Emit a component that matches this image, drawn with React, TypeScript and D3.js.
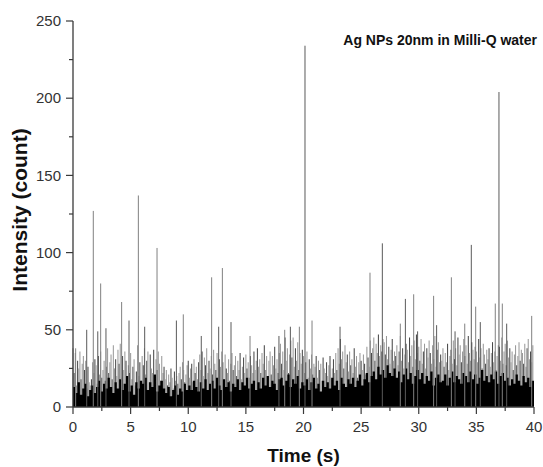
import React from "react";
import * as d3 from "d3";

// ---- data ----
// tall burst events: time (s) and intensity (count)
const spikeTimes = [0.23, 1.19, 1.76, 2.15, 2.4, 2.86, 4.22, 4.86, 5.67, 6.22, 7.29, 8.97, 9.57, 11.13, 12.03, 12.64, 12.96, 13.71, 15.36, 17.87, 18.37, 18.86, 19.64, 20.13, 20.74, 23.17, 25.77, 26.84, 28.4, 28.84, 29.56, 29.9, 31.29, 31.55, 32.83, 33.15, 33.99, 34.56, 34.94, 35.34, 36.64, 36.96, 37.25, 37.63, 39.8];
const spikeCounts = [38, 50, 127, 49, 80, 51, 68, 56, 137, 52, 103, 56, 60, 46, 84, 52, 90, 55, 46, 46, 50, 52, 52, 234, 56, 52, 87, 106, 54, 70, 73, 49, 72, 53, 84, 49, 54, 105, 65, 55, 67, 204, 67, 54, 59];

// background envelope, one value per 0.1 s
const envelopeCounts = [
  38,22,35,14,30,25,36,18,28,33, 24,30,12,26,16,14,18,29,22,31,
  27,15,33,21,36,19,24,30,17,26, 38,22,29,34,18,40,25,31,20,37,
  28,41,19,33,24,36,30,16,27,22, 35,18,26,31,14,23,40,20,29,17,
  33,27,38,21,30,36,16,34,25,22, 37,19,31,24,36,28,17,33,22,26,
  18,24,14,21,16,25,19,12,23,17, 20,15,22,26,18,29,24,16,21,27,
  30,19,25,28,16,31,22,26,18,29, 34,24,36,20,32,27,38,22,30,25,
  33,21,37,28,24,35,19,31,26,36, 29,18,34,25,22,31,17,28,35,24,
  27,33,20,30,24,35,18,26,32,22, 34,25,29,19,33,27,22,36,24,30,
  38,26,31,22,35,28,40,24,33,19, 30,36,21,33,27,39,25,31,22,35,
  41,28,36,24,45,30,38,22,34,43, 32,45,26,38,30,42,24,35,28,37,
  33,22,29,36,19,31,25,34,21,28, 26,33,19,30,24,28,17,32,25,22,
  29,20,27,33,18,25,31,22,35,24, 38,28,44,31,36,25,40,29,34,23,
  36,27,31,22,38,26,33,19,29,35, 30,24,34,28,21,39,32,26,43,35,
  38,45,30,41,35,47,33,40,36,44, 42,34,46,31,39,28,37,44,30,36,
  33,40,27,36,46,30,38,25,34,41, 37,29,45,33,40,26,43,31,47,35,
  39,30,44,28,36,41,25,38,32,43, 35,28,40,31,46,26,37,42,29,34,
  30,38,26,35,29,41,24,33,37,28, 43,31,38,27,45,34,40,29,36,44,
  33,40,28,46,35,30,42,37,31,39, 36,29,44,32,38,25,41,34,28,37,
  31,38,26,35,42,29,36,24,33,40, 39,30,45,28,36,41,27,43,32,38,
  29,36,24,34,40,27,33,42,30,37, 35,28,41,26,38,44,31,36,29,40,
];

// dense (black) background level, one value per 0.2 s
const coreCounts = [
  13,9,16,8,12,15,7,11,14,9, 13,17,10,15,12,19,13,9,16,12,
  18,11,15,20,10,14,8,16,12,17, 15,19,11,16,13,21,10,14,17,12,
  9,13,7,11,14,8,12,10,15,11, 14,11,17,13,10,16,12,18,11,15,
  17,12,19,14,11,18,13,16,10,15, 13,18,11,16,14,19,12,15,17,11,
  16,12,19,14,20,13,17,15,11,18, 19,14,17,21,13,18,15,20,12,16,
  14,18,11,16,19,12,15,10,17,13, 16,12,19,14,17,11,19,15,13,18,
  15,19,13,17,21,14,18,22,16,20, 23,18,26,21,24,19,27,22,20,25,
  19,23,16,21,25,18,22,15,20,24, 18,22,15,20,17,23,14,19,21,16,
  17,21,14,19,23,16,20,18,15,22, 20,16,23,18,21,15,19,24,17,20,
  16,21,18,23,15,20,22,17,19,14, 18,15,21,17,14,20,16,19,13,17,
];
const envelopeStep = 0.1;
const coreStep = 0.2;

const xTicks = [0, 5, 10, 15, 20, 25, 30, 35, 40];
const yTicks = [0, 50, 100, 150, 200, 250];
const title = "Ag NPs 20nm in Milli-Q water";
const xTitle = "Time (s)";
const yTitle = "Intensity (count)";

const W = 543, H = 467;
const left = 73, right = 534, top = 21, bottom = 407;

export default function App() {
  const x = d3.scaleLinear().domain([0, 40]).range([left, right]);
  const y = d3.scaleLinear().domain([0, 250]).range([bottom, top]);
  const xMinor = d3.range(0, 40.001, 2.5);
  const yMinor = d3.range(0, 250.001, 25);
  const font = "'Liberation Sans', Arial, sans-serif";
  const axisColor = "#3a3a3a";
  const coreArea = d3
    .area<number>()
    .x((_, i) => x(Math.min(40, i * coreStep)))
    .y0(y(0))
    .y1((v) => y(v))
    .curve(d3.curveStepAfter);

  return (
    <div style={{ position: "fixed", left: 0, top: 0 }}>
      <svg width={W} height={H} style={{ display: "block", background: "#fff" }}>
        <g>
          {envelopeCounts.map((v, i) => (
            <line key={"e" + i} x1={x(i * envelopeStep)} x2={x(i * envelopeStep)} y1={y(0)} y2={y(v)}
              stroke={i % 3 === 1 ? "#4a4a4a" : "#9a9a9a"} strokeWidth={1.05} />
          ))}
          <path d={coreArea([...coreCounts, coreCounts[coreCounts.length - 1]]) || ""} fill="#000" />
          {spikeTimes.map((t, i) => (
            <line key={"s" + i} x1={x(t)} x2={x(t)} y1={y(0)} y2={y(spikeCounts[i])}
              stroke={i % 2 === 0 ? "#808080" : "#5a5a5a"} strokeWidth={1} />
          ))}
        </g>
        {/* y axis */}
        <line x1={left} x2={left} y1={top} y2={bottom} stroke={axisColor} strokeWidth={1.3} />
        {yMinor.map((v) => (
          <line key={"ym" + v} x1={left} x2={left - (v % 50 === 0 ? 7 : 4)} y1={y(v)} y2={y(v)} stroke={axisColor} strokeWidth={1.2} />
        ))}
        {yTicks.map((v) => (
          <text key={"yt" + v} x={left - 12} y={y(v)} dy="0.35em" textAnchor="end" fontFamily={font} fontSize={15} fill="#333">{v}</text>
        ))}
        {/* x axis */}
        <line x1={left} x2={right} y1={bottom} y2={bottom} stroke={axisColor} strokeWidth={1.3} />
        {xMinor.map((v) => (
          <line key={"xm" + v} x1={x(v)} x2={x(v)} y1={bottom} y2={bottom + (v % 5 === 0 ? 7 : 4)} stroke={axisColor} strokeWidth={1.2} />
        ))}
        {xTicks.map((v) => (
          <text key={"xt" + v} x={x(v)} y={bottom + 25} textAnchor="middle" fontFamily={font} fontSize={15} fill="#333">{v}</text>
        ))}
        <text x={(left + right) / 2} y={462} textAnchor="middle" fontFamily={font} fontWeight="bold" fontSize={19} fill="#111">{xTitle}</text>
        <text transform={`translate(27,210) rotate(-90)`} textAnchor="middle" fontFamily={font} fontWeight="bold" fontSize={21} fill="#111">{yTitle}</text>
        <text x={537} y={45} textAnchor="end" fontFamily={font} fontWeight="bold" fontSize={14} fill="#111">{title}</text>
      </svg>
    </div>
  );
}
